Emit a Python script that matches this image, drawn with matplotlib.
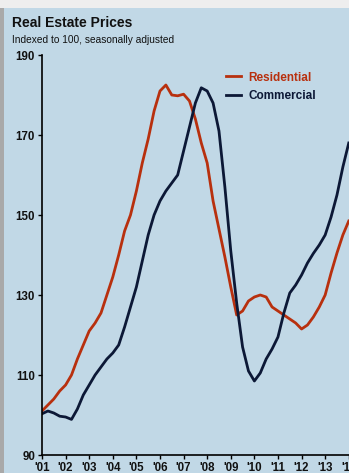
import numpy as np
import matplotlib
matplotlib.use("Agg")
import matplotlib.pyplot as plt
from matplotlib.patches import Rectangle

# quarterly index values, 2001 Q1 .. 2014 Q1
years = np.arange(2001.0, 2014.01, 0.25)
residential = [101, 102.5, 104, 106, 107.5, 110, 114, 117.5, 121, 123, 125.5, 130,
               134.5, 140, 146, 150, 156, 163, 169, 176, 181, 182.5, 180, 179.8,
               180.2, 178.5, 174, 168, 163, 153.5, 146.5, 139.5, 132, 125, 126, 128.5,
               129.5, 130, 129.5, 127, 126, 125, 124, 123, 121.5, 122.5, 124.5, 127,
               130, 135.5, 140.5, 145, 148.5]
commercial = [100.3, 101, 100.5, 99.7, 99.5, 98.9, 101.5, 105, 107.5, 110, 112, 114,
              115.5, 117.5, 122, 127, 132, 138.5, 145, 150, 153.5, 156, 158, 160,
              166, 172, 178, 181.8, 181, 178, 171, 157, 141, 128, 117, 111,
              108.5, 110.5, 114, 116.5, 119.5, 125.5, 130.5, 132.5, 135, 138, 140.4, 142.5,
              145, 149.5, 155, 162, 168]
tick_years = list(range(2001, 2015))
tick_labels = ["'%02d" % (y % 100) for y in tick_years]
y_ticks = [90, 110, 130, 150, 170, 190]

bg = "#c1d8e6"
red = "#b8300e"
navy = "#0c1836"

plt.rcParams['font.family'] = ['Liberation Sans', 'DejaVu Sans']

fig = plt.figure(figsize=(3.49, 4.73), dpi=100)
fig.patch.set_facecolor(bg)
# left grey strip and top light band of the screenshot
fig.patches.append(Rectangle((0, 0), 4 / 349, 1, transform=fig.transFigure,
                             facecolor="#a9a9a9", edgecolor="none", zorder=-1))
fig.patches.append(Rectangle((0, 1 - 8 / 473), 1, 8 / 473, transform=fig.transFigure,
                             facecolor="#eeeeee", edgecolor="none", zorder=-1))

ax = fig.add_axes([42 / 349, 1 - 455 / 473, 1 - 42 / 349, 400 / 473])
ax.set_facecolor(bg)
ax.plot(years, residential, color=red, lw=2.0, label="Residential")
ax.plot(years, commercial, color=navy, lw=2.0, label="Commercial")

ax.set_xlim(2001, 2014.01)
ax.set_ylim(90, 190)
ax.set_yticks(y_ticks)
ax.set_xticks(tick_years)
ax.set_xticklabels(tick_labels)
ax.tick_params(axis="both", direction="out", length=3, width=1, color="black",
               labelsize=8.3, pad=2)
for lab in ax.get_xticklabels() + ax.get_yticklabels():
    lab.set_fontweight("bold")
    lab.set_color("#111111")
for s in ["top", "right"]:
    ax.spines[s].set_visible(False)
for s in ["left", "bottom"]:
    ax.spines[s].set_linewidth(1.2)

leg = ax.legend(loc="upper left", bbox_to_anchor=(0.565, 0.985), frameon=False,
                handlelength=1.3, handletextpad=0.6, labelspacing=0.55,
                prop={"size": 8.5, "weight": "bold"})
for txt, c in zip(leg.get_texts(), [red, navy]):
    txt.set_color(c)

fig.text(12 / 349, 1 - 27 / 473, "Real Estate Prices", fontsize=10, fontweight="bold",
         color="#111111")
fig.text(12 / 349, 1 - 43 / 473, "Indexed to 100, seasonally adjusted",
         fontsize=7.3, color="#111111")

fig.savefig("out.png", dpi=100, facecolor=fig.get_facecolor())
